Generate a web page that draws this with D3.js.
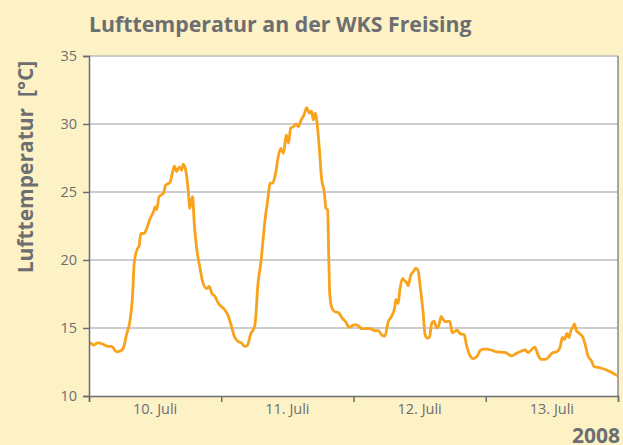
<!DOCTYPE html>
<html>
<head>
<meta charset="utf-8">
<script src="https://cdn.jsdelivr.net/npm/d3@7"></script>
<style>
  html, body { margin: 0; padding: 0; background: #fdf2c6; }
  svg { display: block; }
  text { font-family: "Open Sans", sans-serif; fill: #6d6e71; }
</style>
</head>
<body>
<svg id="chart" width="623" height="445"></svg>
<script>
// Stunden seit 10. Juli 00:00
const hours = [
  0, 0.2, 0.8, 1.6, 2.6, 3.4, 4.1, 5.0, 5.6, 6.2, 6.8, 7.4, 7.9, 8.2, 8.7, 9.1, 9.4, 10.0, 10.5,
  11.1, 11.7, 12.0, 12.3, 12.7, 13.5, 13.9, 14.7, 15.1, 15.5, 15.9, 16.4, 16.8, 17.1, 17.6, 18.0,
  18.3, 18.6, 18.8, 19.1, 19.5, 20.1, 20.7, 21.4, 21.8, 22.3, 22.9, 23.5, 24.4, 25.2, 25.8, 26.4,
  27.1, 27.7, 28.2, 28.7, 29.3, 30.1, 30.7, 31.2, 31.5, 31.9, 32.4, 32.9, 33.3, 33.8, 34.4, 34.8,
  35.3, 35.8, 36.2, 36.6, 37.1, 37.6, 38.0, 38.5, 39.0, 39.5, 40.0, 40.4, 40.7, 41.1, 41.4, 41.8,
  42.2, 42.7, 43.0, 43.3, 43.5, 43.7, 44.1, 44.6, 45.2, 46.0, 46.6, 47.2, 47.7, 48.3, 48.9, 49.5,
  50.4, 51.0, 51.9, 52.5, 53.1, 53.7, 54.3, 54.9, 55.5, 55.7, 56.1, 56.4, 56.9, 57.2, 57.7, 57.9,
  58.4, 58.9, 59.3, 59.7, 60.1, 60.6, 61.0, 61.4, 61.8, 62.2, 62.6, 63.1, 63.5, 63.9, 64.3, 64.8,
  65.2, 65.5, 65.9, 66.4, 66.8, 67.3, 68.1, 68.5, 69.1, 69.7, 70.4, 71.0, 71.6, 72.2, 72.8, 74.0,
  75.5, 76.7, 77.6, 78.5, 79.1, 79.7, 80.3, 80.9, 81.5, 82.0, 82.8, 83.4, 84.0, 84.9, 85.5, 85.9,
  86.3, 86.7, 87.1, 87.4, 87.8, 88.1, 88.4, 89.0, 89.6, 90.0, 90.6, 91.1, 91.7, 92.4, 93.3, 94.2,
  95.2, 95.9, 96.0
];

const temps = [
  13.9, 13.9, 13.75, 13.9, 13.8, 13.65, 13.65, 13.25, 13.3, 13.5, 14.5, 15.45, 17.3, 19.75, 20.75, 21.05, 21.95, 21.95, 22.35,
  23.05, 23.55, 23.9, 23.7, 24.65, 24.9, 25.5, 25.7, 26.35, 26.9, 26.5, 26.85, 26.6, 27.05, 26.5, 25.15,
  23.8, 24.4, 24.65, 22.7, 21.0, 19.5, 18.3, 17.9, 18.05, 17.55, 17.3, 16.8, 16.45, 15.95, 15.2, 14.35,
  14.0, 13.9, 13.65, 13.7, 14.5, 15.2, 18.4, 19.85, 21.1, 22.8, 24.3, 25.65, 25.65, 26.25, 27.7, 28.2,
  27.85, 29.2, 28.6, 29.7, 29.8, 30.0, 29.8, 30.3, 30.65, 31.2, 30.8, 30.95, 30.3, 30.8, 30.05, 28.2,
  26.0, 25.0, 23.8, 23.7, 20.4, 17.45, 16.45, 16.2, 16.15, 15.7, 15.45, 15.05, 15.15, 15.25, 15.15, 14.95,
  14.95, 14.95, 14.8, 14.8, 14.5, 14.4, 15.45, 15.85, 16.55, 17.1, 16.8, 17.8, 18.65, 18.5, 18.3, 18.1,
  18.9, 19.15, 19.4, 19.25, 18.05, 16.3, 14.5, 14.25, 14.35, 15.35, 15.5, 15.0, 15.2, 15.85, 15.6, 15.45,
  15.5, 15.45, 14.65, 14.75, 14.85, 14.6, 14.5, 13.75, 13.0, 12.75, 12.9, 13.35, 13.45, 13.45, 13.4, 13.25,
  13.2, 12.95, 13.15, 13.3, 13.4, 13.2, 13.4, 13.6, 13.0, 12.7, 12.7, 12.85, 13.15, 13.25, 13.6, 14.3,
  14.15, 14.6, 14.3, 14.75, 15.05, 15.3, 14.85, 14.6, 14.35, 13.85, 12.9, 12.65, 12.15, 12.1, 12.0, 11.85,
  11.65, 11.5, 11.5
];

const dayLabels = ["10. Juli", "11. Juli", "12. Juli", "13. Juli"];
const yTicks = [10, 15, 20, 25, 30, 35];

const data = hours.map((h, i) => ({ h, t: temps[i] }));

const svg = d3.select("#chart");
const margin = { top: 56, right: 5, bottom: 49, left: 89 };
const width = 623, height = 445;
const innerWidth = width - margin.left - margin.right;
const innerHeight = height - margin.top - margin.bottom;

const x = d3.scaleLinear().domain([0, 96]).range([0, innerWidth]);
const y = d3.scaleLinear().domain([10, 35]).range([innerHeight, 0]);
const xDay = d3.scaleBand().domain(dayLabels).range([0, innerWidth]).padding(0);

svg.append("text")
  .attr("x", 89)
  .attr("y", 32)
  .attr("font-size", "21.3px")
  .attr("font-weight", "700")
  .text("Lufttemperatur an der WKS Freising");

const root = svg.append("g").attr("transform", `translate(${margin.left},${margin.top})`);

root.append("rect")
  .attr("width", innerWidth)
  .attr("height", innerHeight)
  .attr("fill", "#ffffff");

// Gitterlinien
root.append("g")
  .selectAll("line")
  .data(yTicks.filter((d) => d > 10))
  .join("line")
  .attr("x1", 0)
  .attr("x2", innerWidth)
  .attr("y1", (d) => y(d))
  .attr("y2", (d) => y(d))
  .attr("stroke", "#bdbdbd")
  .attr("stroke-width", 1.5);

// rechter Rahmen
root.append("line")
  .attr("x1", innerWidth)
  .attr("x2", innerWidth)
  .attr("y1", 0)
  .attr("y2", innerHeight)
  .attr("stroke", "#8a8a8a")
  .attr("stroke-width", 1.5);

const line = d3.line()
  .x((d) => x(d.h))
  .y((d) => y(d.t))
  .curve(d3.curveMonotoneX);

root.append("path")
  .datum(data)
  .attr("fill", "none")
  .attr("stroke", "#f9a21b")
  .attr("stroke-width", 2.8)
  .attr("stroke-linejoin", "round")
  .attr("d", line);

const yAxis = root.append("g")
  .call(d3.axisLeft(y).tickValues(yTicks).tickSize(6).tickPadding(6));
yAxis.selectAll("text").attr("font-size", "14.5px").style("font-family", "'Open Sans', sans-serif").attr("fill", "#6d6e71");
yAxis.selectAll("line, path").attr("stroke", "#6d6e71").attr("stroke-width", 1.5);

const xAxis = root.append("g")
  .attr("transform", `translate(0,${innerHeight})`)
  .call(d3.axisBottom(x).tickValues([0, 24, 48, 72, 96]).tickSize(6).tickFormat(""));
xAxis.selectAll("line, path").attr("stroke", "#6d6e71").attr("stroke-width", 1.5);

root.append("g")
  .selectAll("text")
  .data(dayLabels)
  .join("text")
  .attr("x", (d) => xDay(d) + xDay.bandwidth() / 2)
  .attr("y", innerHeight + 18)
  .attr("text-anchor", "middle")
  .attr("font-size", "14.5px")
  .text((d) => d);

svg.append("text")
  .attr("transform", "rotate(-90)")
  .attr("x", -167)
  .attr("y", 33)
  .attr("text-anchor", "middle")
  .attr("font-size", "21px")
  .attr("font-weight", "700")
  .attr("xml:space", "preserve")
  .text("Lufttemperatur  [°C]");

svg.append("text")
  .attr("x", 620)
  .attr("y", 443)
  .attr("text-anchor", "end")
  .attr("font-size", "21px")
  .attr("font-weight", "700")
  .text("2008");
</script>
</body>
</html>
